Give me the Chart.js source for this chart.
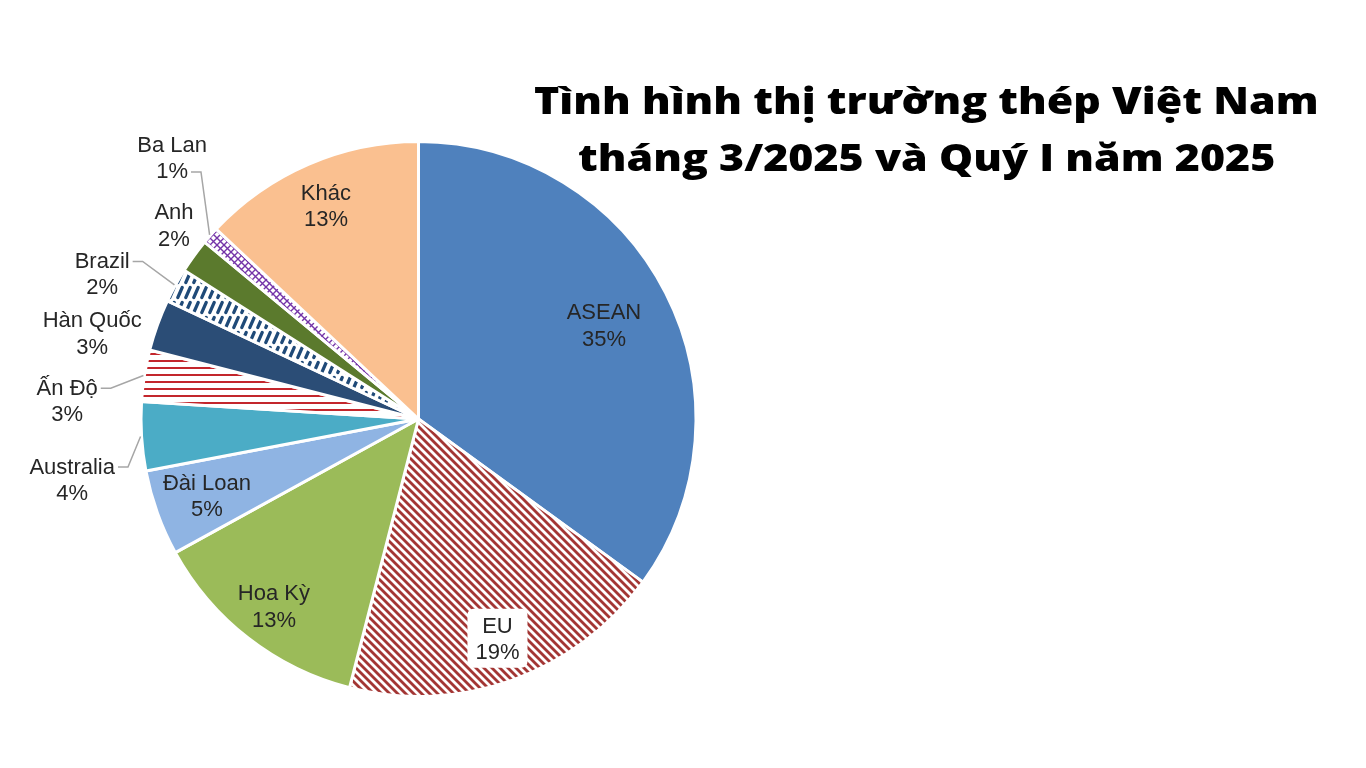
<!DOCTYPE html>
<html>
<head>
<meta charset="utf-8">
<script src="https://cdn.jsdelivr.net/npm/chart.js@4"></script>
<style>
html,body{margin:0;padding:0;background:#fff;}
#wrap{position:relative;width:1366px;height:768px;overflow:hidden;}
#title{position:absolute;left:0;top:0;width:1366px;height:200px;pointer-events:none;}
.tl{position:absolute;white-space:nowrap;font-family:"Open Sans",sans-serif;font-weight:800;font-size:37px;color:#000;transform-origin:0 0;line-height:1;}
</style>
</head>
<body>
<div id="wrap">
<canvas id="c" width="1366" height="768"></canvas>
<div id="title"><div class="tl" id="t1">Tình hình thị trường thép Việt Nam</div><div class="tl" id="t2">tháng 3/2025 và Quý I năm 2025</div></div>
</div>
<script>
// ---- data ----
const categories = ['ASEAN','EU','Hoa Kỳ','Đài Loan','Australia','Ấn Độ','Hàn Quốc','Brazil','Anh','Ba Lan','Khác'];
const shares = [35,19,13,5,4,3,3,2,2,1,13];
const percentLabels = ['35%','19%','13%','5%','4%','3%','3%','2%','2%','1%','13%'];

// ---- patterns ----
function mkTile(w,h,draw){
  const c=document.createElement('canvas');c.width=w;c.height=h;
  const g=c.getContext('2d');g.fillStyle='#fff';g.fillRect(0,0,w,h);draw(g);
  return document.getElementById('c').getContext('2d').createPattern(c,'repeat');
}
const euPattern = mkTile(8,8,g=>{
  g.strokeStyle='#A33634';g.lineWidth=2.8;
  for(let k=-1;k<=1;k++){g.beginPath();g.moveTo(k*8-1,-1);g.lineTo(k*8+9,9);g.stroke();}
});
const indiaPattern = mkTile(12,7,g=>{
  g.fillStyle='#C3262C';g.fillRect(0,3,12,2);
});
const brazilPattern = mkTile(8,15,g=>{
  g.strokeStyle='#1F4A78';g.lineWidth=3.2;g.lineCap='round';
  g.beginPath();g.moveTo(1.8,12.5);g.lineTo(6.2,2.5);g.stroke();
});
const polandPattern = mkTile(7,7,g=>{
  g.strokeStyle='#7434A8';g.lineWidth=1.4;
  g.beginPath();g.moveTo(0,0);g.lineTo(7,7);g.moveTo(7,0);g.lineTo(0,7);g.stroke();
});
const sliceColors = ['#4F81BD',euPattern,'#9BBB59','#8FB4E3','#4BACC6',indiaPattern,'#2B4D76',brazilPattern,'#5B7A2D',polandPattern,'#FAC090'];

// ---- label layout (fractions of radius) ----
const inner = {0:0.75,1:0.84,2:0.85,3:0.81,10:0.84};
const outer = {
  9:{dx:-0.888,dy:-0.943,leader:{line:1}},
  8:{dx:-0.881,dy:-0.701},
  7:{dx:-1.140,dy:-0.525,leader:{line:0}},
  6:{dx:-1.176,dy:-0.312},
  5:{dx:-1.266,dy:-0.068,leader:{line:0}},
  4:{dx:-1.248,dy:0.216,leader:{line:0}}
};

const labelPlugin = {
  id:'sliceLabels',
  afterDatasetsDraw(chart){
    const ctx=chart.ctx;const meta=chart.getDatasetMeta(0);
    const fs=22, lh=26.5;
    ctx.save();
    ctx.font=fs+'px "Liberation Sans", Arial, sans-serif';
    ctx.fillStyle='#262626';ctx.textAlign='center';ctx.textBaseline='alphabetic';
    meta.data.forEach((arc,i)=>{
      const p=arc.getProps(['x','y','startAngle','endAngle','outerRadius'],true);
      const mid=(p.startAngle+p.endAngle)/2;const R=p.outerRadius;
      let cx,cy;
      if(inner[i]!==undefined){cx=p.x+Math.cos(mid)*R*inner[i];cy=p.y+Math.sin(mid)*R*inner[i];}
      else {const o=outer[i];cx=p.x+o.dx*R;cy=p.y+o.dy*R;}
      const lines=[categories[i],percentLabels[i]];
      const y1=cy-lh/2+fs*0.36, y2=cy+lh/2+fs*0.36;
      if(i===1){
        const w=Math.max(ctx.measureText(lines[0]).width,ctx.measureText(lines[1]).width)+16;
        ctx.fillStyle='#fff';
        const bx=cx-w/2,by=cy-lh-3,bh=lh*2+6;
        ctx.beginPath();
        if(ctx.roundRect)ctx.roundRect(bx,by,w,bh,6);else ctx.rect(bx,by,w,bh);
        ctx.fill();ctx.fillStyle='#262626';
      }
      ctx.fillText(lines[0],cx,y1);ctx.fillText(lines[1],cx,y2);
      const o=outer[i];
      if(o&&o.leader){
        const ln=o.leader.line;const tw=ctx.measureText(lines[ln]).width;
        const sx=cx+tw/2+3, sy=(ln===0?y1:y2)-fs*0.3;
        const ex=p.x+Math.cos(mid)*(R+1), ey=p.y+Math.sin(mid)*(R+1);
        ctx.save();ctx.strokeStyle='#A6A6A6';ctx.lineWidth=1.5;
        ctx.beginPath();ctx.moveTo(sx,sy);ctx.lineTo(sx+10,sy);ctx.lineTo(ex,ey);ctx.stroke();ctx.restore();
      }
    });
    ctx.restore();
  }
};

new Chart(document.getElementById('c'),{
  type:'pie',
  data:{labels:categories,datasets:[{data:shares,backgroundColor:sliceColors,borderColor:'#fff',borderWidth:3,hoverOffset:0}]},
  options:{
    responsive:false,animation:false,devicePixelRatio:1,
    layout:{padding:{left:139,right:668,top:140,bottom:70}},
    plugins:{legend:{display:false},tooltip:{enabled:false},title:{display:false}},
    events:[]
  },
  plugins:[labelPlugin]
});

// ---- title fitting ----
function fitTitle(){
  const t1=document.getElementById('t1'),t2=document.getElementById('t2');
  const w1=t1.offsetWidth;
  const s=785/w1;
  const w2=t2.offsetWidth*s;
  const cx=926;
  t1.style.left=(cx-785/2)+'px';t1.style.top='81px';t1.style.transform='scaleX('+s+')';
  t2.style.left=(cx-w2/2)+'px';t2.style.top='138px';t2.style.transform='scaleX('+s+')';
}
fitTitle();
if(document.fonts&&document.fonts.ready){document.fonts.ready.then(fitTitle);}
</script>
</body>
</html>
